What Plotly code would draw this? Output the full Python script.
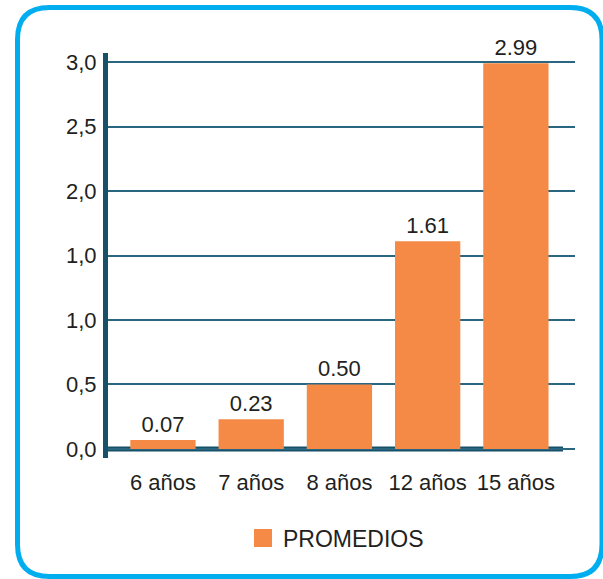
import plotly.graph_objects as go

categories = ["6 años", "7 años", "8 años", "12 años", "15 años"]
promedios = [0.07, 0.23, 0.50, 1.61, 2.99]
y_tick_vals = [0, 0.5, 1.0, 1.5, 2.0, 2.5, 3.0]
y_tick_text = ["0,0", "0,5", "1,0", "1,0", "2,0", "2,5", "3,0"]
series_name = "PROMEDIOS"

W, H = 603, 579
L, R, T, B = 108, 575, 53, 458  # plot area in pixels

BAR = "#f58a46"
AXIS = "#175169"
GRID = "#2b6680"
BORDER = "#00aeef"
TXT = "#231f20"
FONT = "Liberation Sans, Arial, sans-serif"


def px(x):
    return (x - L) / (R - L)


def py(y):
    return (B - y) / (B - T)


fig = go.Figure()
fig.add_trace(go.Bar(
    x=categories, y=promedios, width=0.74,
    marker=dict(color=BAR, line=dict(width=0)),
    texttemplate="%{y:.2f}", textposition="outside", cliponaxis=False,
    textfont=dict(size=22, color=TXT, family=FONT),
    showlegend=False, name=series_name,
))
# legend entry
fig.add_trace(go.Scatter(
    x=[categories[0]], y=[None], mode="markers", name=series_name,
    marker=dict(symbol="square", size=16, color=BAR, line=dict(color=BAR, width=2)),
    showlegend=True,
))

# rounded border
x0, x1, y0, y1, r = 17.5, 602, 7.5, 576.5, 32
path = (
    f"M {px(x0+r)},{py(y0)} L {px(x1-r)},{py(y0)} Q {px(x1)},{py(y0)} {px(x1)},{py(y0+r)} "
    f"L {px(x1)},{py(y1-r)} Q {px(x1)},{py(y1)} {px(x1-r)},{py(y1)} "
    f"L {px(x0+r)},{py(y1)} Q {px(x0)},{py(y1)} {px(x0)},{py(y1-r)} "
    f"L {px(x0)},{py(y0+r)} Q {px(x0)},{py(y0)} {px(x0+r)},{py(y0)} Z"
)
fig.add_shape(type="path", path=path, xref="paper", yref="paper",
              line=dict(color=BORDER, width=5), layer="above")
# bottom axis line at zero
fig.add_shape(type="line", xref="paper", yref="y", x0=px(106), x1=px(563), y0=0, y1=0,
              line=dict(color=AXIS, width=5), layer="below")

fig.update_layout(
    width=W, height=H,
    margin=dict(l=L, r=W - R, t=T, b=H - B, pad=0),
    paper_bgcolor="white", plot_bgcolor="white",
    font=dict(family=FONT, size=22, color=TXT),
    bargap=0.2,
    showlegend=True,
    legend=dict(orientation="h", x=px(243), xanchor="left", y=py(538), yanchor="middle",
                font=dict(size=23, color=TXT, family=FONT), bgcolor="rgba(0,0,0,0)"),
    xaxis=dict(range=[-0.623, 4.67], showgrid=False, zeroline=False, showline=False,
               ticks="", tickfont=dict(size=22, color=TXT), ticklabelstandoff=9),
    yaxis=dict(range=[-0.07, 3.07], tickvals=y_tick_vals, ticktext=y_tick_text,
               showgrid=True, gridcolor=GRID, gridwidth=2, zeroline=False,
               showline=True, linecolor=AXIS, linewidth=5, ticks="",
               tickfont=dict(size=22, color=TXT), ticklabelstandoff=2),
)

fig.write_html("out.html")
